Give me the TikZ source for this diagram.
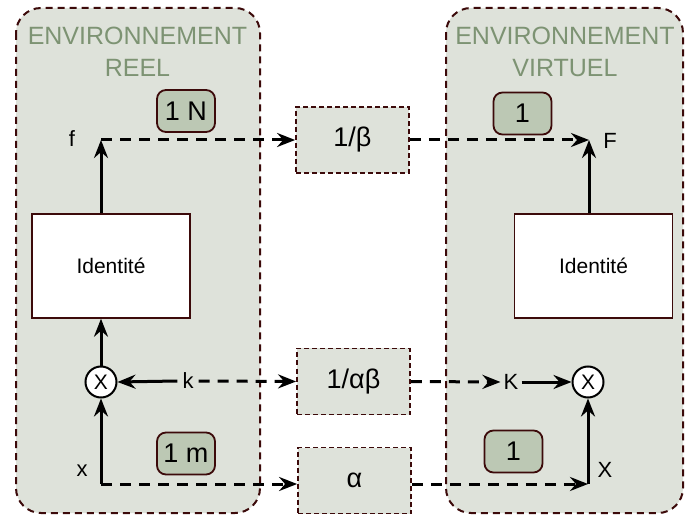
\documentclass[tikz,border=0pt]{standalone}
\usepackage{fontspec}
\setmainfont{Liberation Sans}
\usetikzlibrary{arrows.meta}
\definecolor{envfill}{HTML}{DEE2DA}
\definecolor{brd}{HTML}{3C0A0A}
\definecolor{lblfill}{HTML}{BCC8B4}
\definecolor{ttl}{HTML}{7D9373}
\begin{document}
\begin{tikzpicture}[x=1pt,y=-1pt,
 env/.style={draw=brd, fill=envfill, line width=2pt, dash pattern=on 7pt off 5pt, rounded corners=25pt},
 title/.style={text=ttl, font=\fontsize{25}{32.5}\selectfont, align=center},
 convbox/.style={draw=brd, fill=envfill, line width=1.8pt, dash pattern=on 5pt off 3pt, minimum width=113pt, minimum height=66pt, font=\fontsize{27}{27}\selectfont, inner sep=0pt},
 unitbox/.style={draw=brd, fill=lblfill, line width=1.8pt, rounded corners=9pt, minimum width=58pt, minimum height=42pt, font=\fontsize{27}{27}\selectfont, inner sep=0pt},
 idbox/.style={draw=brd, fill=white, line width=1.5pt, minimum width=158pt, minimum height=104pt, font=\fontsize{21}{21}\selectfont, inner sep=0pt},
 mult/.style={circle, draw=black, fill=white, line width=2pt, minimum size=31pt, inner sep=0pt, font=\fontsize{21}{21}\selectfont},
 lbl/.style={font=\fontsize{22}{22}\selectfont, inner sep=2pt},
 sig/.style={line width=3pt, -{Stealth[length=18pt,width=14pt,inset=6pt]}},
 dsig/.style={sig, dash pattern=on 11pt off 8pt},
]
\useasboundingbox (0,0) rectangle (685,518);
\fill[white] (0,0) rectangle (685,518);
% environments
\path[env] (16,8) rectangle (260,513);
\path[env] (446,8) rectangle (683,513);
\node[title] (t1) at (137.5,52) {ENVIRONNEMENT\\REEL};
\node[title] (t2) at (565,52) {ENVIRONNEMENT\\VIRTUEL};
% conversion boxes
\node[convbox] (beta) at (352.5,140) {1/β};
\node[convbox] (ab) at (353.5,381.5) {1/αβ};
\node[convbox] (al) at (354.5,480.5) {α};
% unit labels
\node[unitbox] (u1) at (186,111) {1 N};
\node[unitbox] (u2) at (522.5,113.5) {1};
\node[unitbox] (u3) at (186,453.5) {1 m};
\node[unitbox] (u4) at (513.5,451.5) {1};
% identity boxes
\node[idbox] (id1) at (111,266) {Identité};
\node[idbox] (id2) at (593.5,266) {Identité};
% multipliers
\node[mult] (m1) at (101,382) {X};
\node[mult] (m2) at (588,382) {X};
% coordinates
\coordinate (fc) at (101,140);
\coordinate (Fc) at (589,140);
\coordinate (xc) at (101,484);
\coordinate (Xc) at (588,484);
% labels
\node[lbl] (f) at (72,139) {f};
\node[lbl] (F) at (610,141) {F};
\node[lbl] (x) at (82,471) {x};
\node[lbl] (X) at (605,470) {X};
\node[lbl, inner sep=5pt] (k) at (188,381) {k};
\node[lbl, inner sep=3pt] (K) at (511,382) {K};
% connectors
\draw[sig] (id1.north -| fc) -- (fc);
\draw[dsig] (fc) -- (beta.west);
\draw[dsig] (beta.east) -- (Fc);
\draw[sig] (id2.north -| Fc) -- (Fc);
\draw[sig] (m1.north) -- (id1.south -| m1);
\draw[sig] (xc) -- (m1.south);
\draw[dsig] (xc) -- (xc -| al.west);
\draw[sig] (k.west) -- (m1.east);
\draw[dsig] (k.east) -- (ab.west);
\draw[dsig] (ab.east) -- (K.west);
\draw[sig] (K.east) -- (m2.west);
\draw[dsig] (al.east |- Xc) -- (Xc);
\draw[sig] (Xc) -- (m2.south);
\end{tikzpicture}
\end{document}
